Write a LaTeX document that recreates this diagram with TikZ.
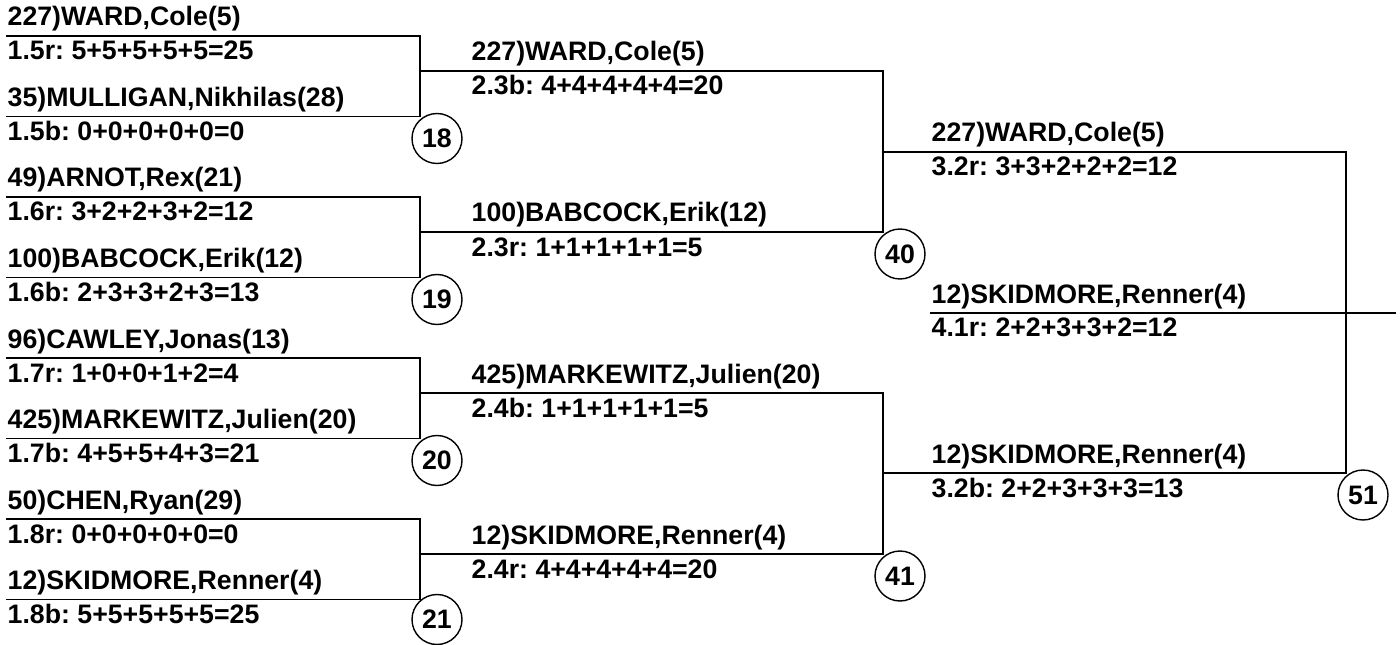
\documentclass[tikz,border=0pt]{standalone}
\usepackage{fontspec}
\setmainfont{Liberation Sans}
\usetikzlibrary{positioning, calc}
\frenchspacing

\begin{document}
\begin{tikzpicture}[x=0.02cm, y=-0.02cm, line width=0.8pt,
    player/.style={anchor=base west, inner sep=0pt, font=\bfseries\fontsize{15.2}{18}\selectfont},
    tally/.style={player},
    bout/.style={circle, draw, minimum size=1cm, inner sep=0pt, font=\bfseries\fontsize{15.2}{18}\selectfont}]
    \useasboundingbox (0,0) rectangle (1400,645);

    % Define line ends
    \coordinate (p1) at (6,36);    \coordinate (p2) at (6,116.5);
    \coordinate (p3) at (6,197);   \coordinate (p4) at (6,277.5);
    \coordinate (p5) at (6,358);   \coordinate (p6) at (6,438.5);
    \coordinate (p7) at (6,519);   \coordinate (p8) at (6,599.5);
    \coordinate (q1) at (420,71);  \coordinate (q2) at (420,232);
    \coordinate (q3) at (420,393); \coordinate (q4) at (420,554);
    \coordinate (s1) at (883,152); \coordinate (s2) at (883,473);
    \coordinate (c) at (1346,313);
    \coordinate (f) at (930,313);  \coordinate (fe) at (1396,313);

    % Round 1
    \node [player] (w1) at (7,26) {227)WARD,Cole(5)};
    \node [tally] (t1) at (7,60) {1.5r: 5+5+5+5+5=25};
    \node [player] (w2) at (7,106.5) {35)MULLIGAN,Nikhilas(28)};
    \node [tally] (t2) at (7,140.5) {1.5b: 0+0+0+0+0=0};
    \node [player] (w3) at (7,187) {49)ARNOT,Rex(21)};
    \node [tally] (t3) at (7,221) {1.6r: 3+2+2+3+2=12};
    \node [player] (w4) at (7,267.5) {100)BABCOCK,Erik(12)};
    \node [tally] (t4) at (7,301.5) {1.6b: 2+3+3+2+3=13};
    \node [player] (w5) at (7,348) {96)CAWLEY,Jonas(13)};
    \node [tally] (t5) at (7,382) {1.7r: 1+0+0+1+2=4};
    \node [player] (w6) at (7,428.5) {425)MARKEWITZ,Julien(20)};
    \node [tally] (t6) at (7,462.5) {1.7b: 4+5+5+4+3=21};
    \node [player] (w7) at (7,509) {50)CHEN,Ryan(29)};
    \node [tally] (t7) at (7,543) {1.8r: 0+0+0+0+0=0};
    \node [player] (w8) at (7,589.5) {12)SKIDMORE,Renner(4)};
    \node [tally] (t8) at (7,623.5) {1.8b: 5+5+5+5+5=25};

    % Round 2
    \node [player] (v1) at (471,61) {227)WARD,Cole(5)};
    \node [tally] (u1) at (471,95) {2.3b: 4+4+4+4+4=20};
    \node [player] (v2) at (471,222) {100)BABCOCK,Erik(12)};
    \node [tally] (u2) at (471,256) {2.3r: 1+1+1+1+1=5};
    \node [player] (v3) at (471,383) {425)MARKEWITZ,Julien(20)};
    \node [tally] (u3) at (471,417) {2.4b: 1+1+1+1+1=5};
    \node [player] (v4) at (471,544) {12)SKIDMORE,Renner(4)};
    \node [tally] (u4) at (471,578) {2.4r: 4+4+4+4+4=20};

    % Round 3 and final
    \node [player] (x1) at (931,142) {227)WARD,Cole(5)};
    \node [tally] (y1) at (931,176) {3.2r: 3+3+2+2+2=12};
    \node [player] (x2) at (931,463) {12)SKIDMORE,Renner(4)};
    \node [tally] (y2) at (931,497) {3.2b: 2+2+3+3+3=13};
    \node [player] (champ) at (931,303) {12)SKIDMORE,Renner(4)};
    \node [tally] (champs) at (931,337) {4.1r: 2+2+3+3+2=12};

    % Draw brackets
    \draw (p1) -| (q1 |- p2) -- (p2);
    \draw (p3) -| (q2 |- p4) -- (p4);
    \draw (p5) -| (q3 |- p6) -- (p6);
    \draw (p7) -| (q4 |- p8) -- (p8);
    \draw (q1) -| (s1 |- q2) -- (q2);
    \draw (q3) -| (s2 |- q4) -- (q4);
    \draw (s1) -| (c |- s2) -- (s2);
    \draw (f) -- (fe);

    % Bout numbers
    \node [bout] (b18) at (437,138.5) {18};
    \node [bout] (b19) at (437,299.5) {19};
    \node [bout] (b20) at (437,460.5) {20};
    \node [bout] (b21) at (437,619.5) {21};
    \node [bout] (b40) at (900,254) {40};
    \node [bout] (b41) at (900,576) {41};
    \node [bout] (b51) at (1363,495) {51};
\end{tikzpicture}
\end{document}
